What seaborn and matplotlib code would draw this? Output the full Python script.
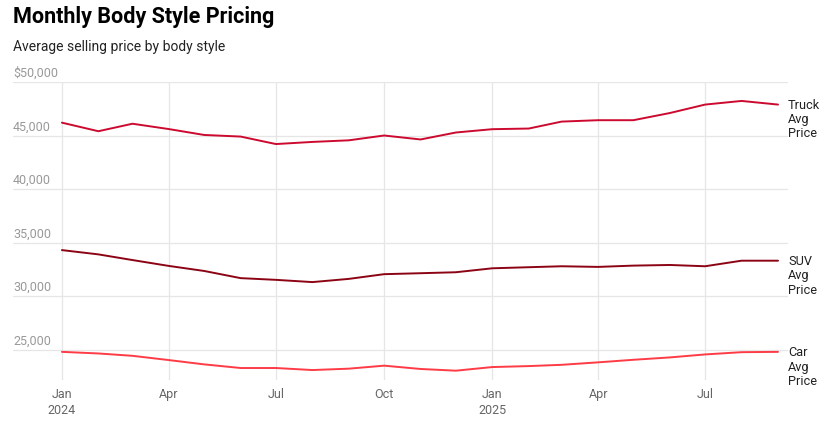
import pandas as pd
import matplotlib.pyplot as plt
import matplotlib.transforms as mtransforms
import seaborn as sns

# 数据
months = pd.date_range('2024-01-01', '2025-09-01', freq='MS')
truck_price = [46200, 45400, 46100, 45600, 45050, 44900, 44200, 44400, 44550, 45000,
               44630, 45280, 45590, 45650, 46300, 46430, 46430, 47100, 47890, 48230, 47890]
suv_price = [34290, 33890, 33360, 32810, 32340, 31670, 31510, 31300, 31600, 32040,
             32130, 32220, 32590, 32690, 32780, 32720, 32840, 32900, 32780, 33300, 33300]
car_price = [24780, 24630, 24410, 24010, 23610, 23270, 23270, 23080, 23210, 23490,
             23180, 23020, 23360, 23450, 23570, 23800, 24040, 24260, 24540, 24750, 24780]
series_names = ['Truck Avg Price', 'SUV Avg Price', 'Car Avg Price']
y_ticks = [25000, 30000, 35000, 40000, 45000, 50000]
x_ticks = pd.to_datetime(['2024-01-01', '2024-04-01', '2024-07-01', '2024-10-01',
                          '2025-01-01', '2025-04-01', '2025-07-01'])
x_tick_labels = ['Jan\n2024', 'Apr', 'Jul', 'Oct', 'Jan\n2025', 'Apr', 'Jul']

colors = {'Truck Avg Price': '#cc0a2f', 'SUV Avg Price': '#8c0414', 'Car Avg Price': '#ff3b46'}

df = pd.DataFrame({
    'month': list(months) * 3,
    'price': truck_price + suv_price + car_price,
    'series': [s for s in series_names for _ in months],
})

sns.set_style('white')
plt.rcParams['font.family'] = ['Roboto', 'DejaVu Sans']

W, H = 828, 430
fig = plt.figure(figsize=(W / 100, H / 100), dpi=100)
ax = fig.add_axes([13 / W, 1 - 380 / H, (788 - 13) / W, (380 - 82) / H])

sns.lineplot(data=df, x='month', y='price', hue='series', palette=colors,
             linewidth=1.4, legend=False, ax=ax)

# 坐标范围
px_month = (778 - 62) / 20
ax.set_xlim(months[0] - pd.Timedelta(days=49 / px_month * 30.4),
            months[-1] + pd.Timedelta(days=10 / px_month * 30.4))
ax.set_ylim(22150, 50000)

for s in ax.spines.values():
    s.set_visible(False)

ax.set_xticks(x_ticks)
ax.set_xticklabels(x_tick_labels, fontsize=9, color='#666666', linespacing=1.25)
ax.tick_params(axis='x', length=0, pad=6)
ax.set_yticks(y_ticks)
ax.set_yticklabels([])
ax.tick_params(axis='y', length=0)
ax.grid(True, color='#e6e6e6', linewidth=0.9)
ax.set_xlabel('')
ax.set_ylabel('')

# y轴标签放在网格线上方
trans = mtransforms.blended_transform_factory(ax.transAxes, ax.transData)
lab_trans = trans + mtransforms.ScaledTranslation(0, 1.5 / 72, fig.dpi_scale_trans)
for v in y_ticks:
    lab = f'${v:,}' if v == y_ticks[-1] else f'{v:,}'
    ax.text(0, v, lab, transform=lab_trans, ha='left', va='bottom',
            fontsize=9, color='#999999')

# 右侧线条标签
ends = {'Truck Avg Price': truck_price[-1], 'SUV Avg Price': suv_price[-1],
        'Car Avg Price': car_price[-1]}
for name, v in ends.items():
    ax.annotate(name.replace(' ', '\n'), xy=(1, v), xycoords=trans,
                xytext=(0, 4), textcoords='offset points',
                ha='left', va='top', fontsize=9.2, color='#222222',
                linespacing=1.12, annotation_clip=False)

fig.text(13 / W, 1 - 17 / H, 'Monthly Body Style Pricing', fontsize=15.5,
         fontweight='bold', ha='left', va='center', color='#000000')
fig.text(13 / W, 1 - 47 / H, 'Average selling price by body style', fontsize=10,
         ha='left', va='center', color='#222222')

fig.savefig('out.png', dpi=100)
